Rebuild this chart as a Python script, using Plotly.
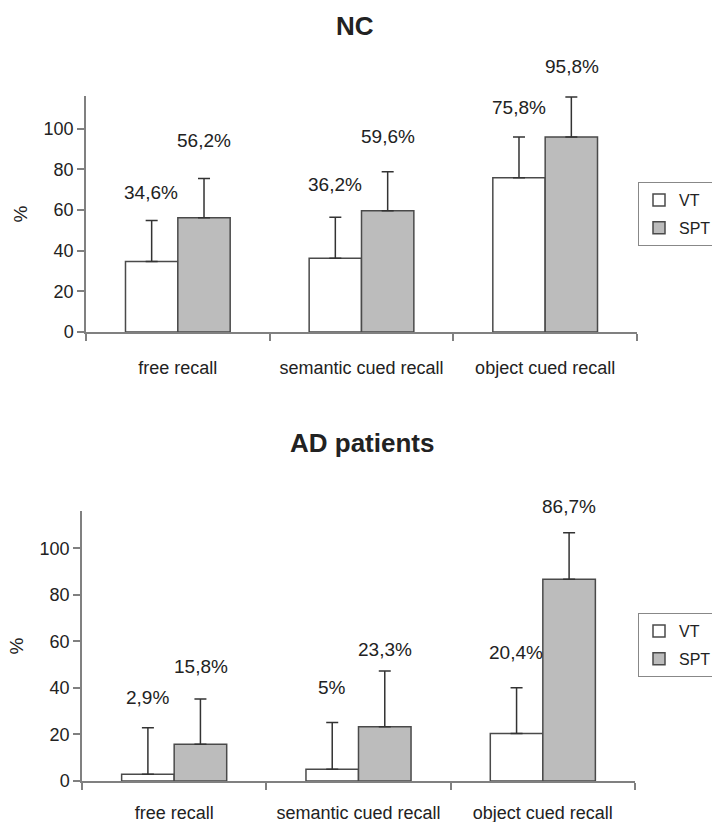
import plotly.graph_objects as go

categories = ["free recall", "semantic cued recall", "object cued recall"]
series_names = ["VT", "SPT"]

nc_vt = [34.6, 36.2, 75.8]
nc_spt = [56.2, 59.6, 95.8]
nc_vt_err = [20.2, 20.2, 20.1]
nc_spt_err = [19.3, 19.2, 19.7]

ad_vt = [2.9, 5.0, 20.4]
ad_spt = [15.8, 23.3, 86.7]
ad_vt_err = [20.0, 20.1, 19.7]
ad_spt_err = [19.4, 24.0, 20.0]

y_ticks = [0, 20, 40, 60, 80, 100]
titles = ["NC", "AD patients"]

# pixel offsets of the value labels above the error caps (style)
nc_shift = {"VT": [28, 33, 29], "SPT": [38, 35, 31]}
ad_shift = {"VT": [30, 35, 35], "SPT": [33, 21, 26]}

FONT = "Liberation Sans, Arial, sans-serif"
TXT = "#222222"
AXC = "#808080"
W, H = 712, 822
YMAX = 116

# plot-area geometry in pixels
TOP = dict(x0=86, x1=637, y0=96, y1=332)
BOT = dict(x0=82, x1=635, y0=511, y1=781)


def fmt(v):
    if float(v).is_integer():
        return f"{int(v)}%"
    return f"{v:.1f}".replace(".", ",") + "%"


fig = go.Figure()

panels = [
    dict(vt=nc_vt, spt=nc_spt, vte=nc_vt_err, spte=nc_spt_err, xa="x", ya="y",
         leg="legend", shift=nc_shift, geo=TOP),
    dict(vt=ad_vt, spt=ad_spt, vte=ad_vt_err, spte=ad_spt_err, xa="x2", ya="y2",
         leg="legend2", shift=ad_shift, geo=BOT),
]

annotations = []
for p in panels:
    pxu = (p["geo"]["y1"] - p["geo"]["y0"]) / YMAX
    for name, vals, errs, color, xs in [
        ("VT", p["vt"], p["vte"], "white", -26.5),
        ("SPT", p["spt"], p["spte"], "#bcbcbc", 26.5),
    ]:
        fig.add_trace(go.Bar(
            x=categories, y=vals, name=name, xaxis=p["xa"], yaxis=p["ya"],
            legend=p["leg"], legendgroup=p["leg"] + name, cliponaxis=False,
            marker=dict(color=color, line=dict(color="#4a4a4a", width=1.5)),
            error_y=dict(type="data", symmetric=False, array=errs,
                         arrayminus=[0] * len(errs), color="#333333",
                         thickness=1.5, width=6),
        ))
        for i, c in enumerate(categories):
            annotations.append(dict(
                x=c, y=vals[i], xref=p["xa"], yref=p["ya"],
                text=fmt(vals[i]), showarrow=False, xshift=xs,
                yshift=errs[i] * pxu + p["shift"][name][i], yanchor="middle",
                font=dict(family=FONT, size=19, color=TXT),
            ))

annotations.append(dict(text="<b>" + titles[0] + "</b>", x=355 / W, y=1 - 26 / H,
                        xref="paper", yref="paper", showarrow=False,
                        xanchor="center", yanchor="middle",
                        font=dict(family=FONT, size=26, color=TXT)))
annotations.append(dict(text="<b>" + titles[1] + "</b>", x=362 / W, y=1 - 443 / H,
                        xref="paper", yref="paper", showarrow=False,
                        xanchor="center", yanchor="middle",
                        font=dict(family=FONT, size=26, color=TXT)))

xcommon = dict(type="category", showline=True, linecolor=AXC, linewidth=1.5,
               ticks="outside", tickson="boundaries", ticklen=7, tickcolor=AXC,
               tickwidth=1.5, showgrid=False, zeroline=False,
               tickfont=dict(family=FONT, size=18, color=TXT))
ycommon = dict(range=[0, YMAX], tickvals=y_ticks, showline=True, linecolor=AXC,
               linewidth=1.5, ticks="outside", ticklen=7, tickcolor=AXC,
               tickwidth=1.5, showgrid=False, zeroline=False,
               tickfont=dict(family=FONT, size=18, color=TXT),
               title=dict(text="%", font=dict(family=FONT, size=19, color=TXT),
                          standoff=11))

legcommon = dict(xanchor="left", yanchor="top", bgcolor="white",
                 bordercolor="#888888", borderwidth=1,
                 font=dict(family=FONT, size=16, color=TXT),
                 itemwidth=30, tracegroupgap=4, traceorder="grouped")

fig.update_layout(
    width=W, height=H,
    margin=dict(l=0, r=0, t=0, b=0, autoexpand=False),
    paper_bgcolor="white", plot_bgcolor="white",
    barmode="group", bargap=0.43, bargroupgap=0,
    xaxis=dict(domain=[TOP["x0"] / W, TOP["x1"] / W], anchor="y",
               ticklabelstandoff=19, **xcommon),
    yaxis=dict(domain=[1 - TOP["y1"] / H, 1 - TOP["y0"] / H], anchor="x", **ycommon),
    xaxis2=dict(domain=[BOT["x0"] / W, BOT["x1"] / W], anchor="y2",
                ticklabelstandoff=15, **xcommon),
    yaxis2=dict(domain=[1 - BOT["y1"] / H, 1 - BOT["y0"] / H], anchor="x2", **ycommon),
    legend=dict(x=638 / W, y=1 - 182 / H, **legcommon),
    legend2=dict(x=638 / W, y=1 - 613 / H, **legcommon),
    annotations=annotations,
    showlegend=True,
)

fig.write_html("out.html", config={"displayModeBar": False},
               post_script="document.body.style.margin='0';document.body.style.padding='0';")
